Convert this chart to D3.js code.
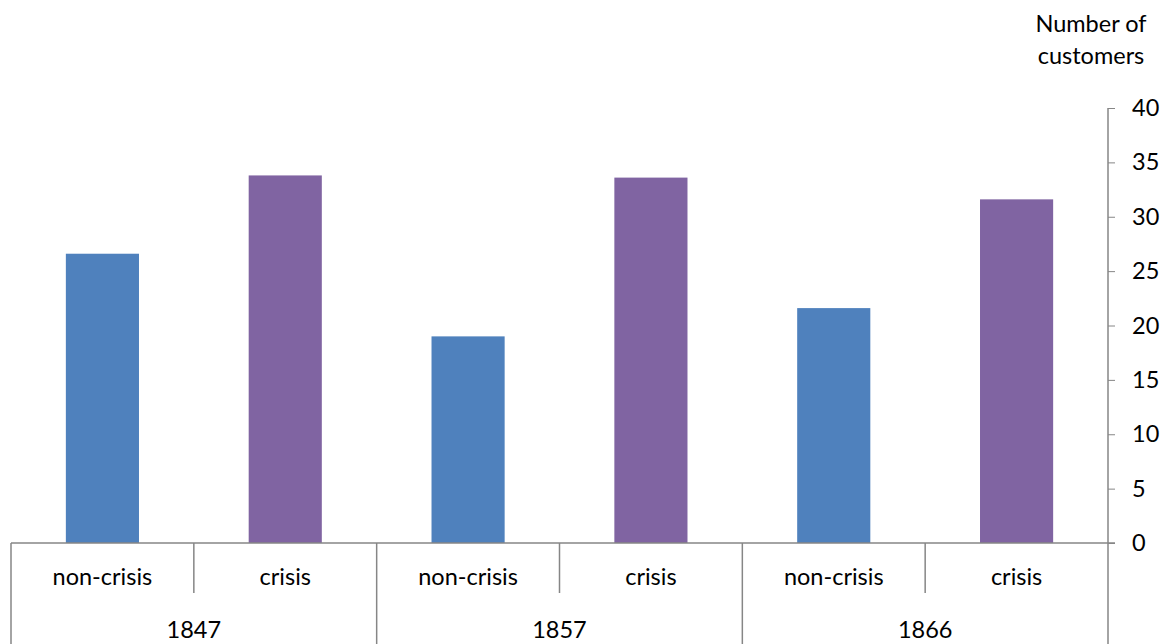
<!DOCTYPE html>
<html>
<head>
<meta charset="utf-8">
<script src="https://cdn.jsdelivr.net/npm/d3@7"></script>
<style>
  body { margin: 0; background: #fff; }
  .chart { width: 1169px; height: 644px; }
  text { font-family: Lato, "Open Sans", sans-serif; fill: #000; }
</style>
</head>
<body>
<div class="chart"></div>
<script>
// chart data
let years = ["1847", "1857", "1866"];
let kinds = ["non-crisis", "crisis"];
let customers = [26.6, 33.8, 19.0, 33.6, 21.6, 31.6];
let yTicks = [0, 5, 10, 15, 20, 25, 30, 35, 40];
let axisTitle = ["Number of", "customers"];

let colors = { "non-crisis": "#4F81BD", "crisis": "#8064A2" };
let axisColor = "#868686";
let fontSize = "23.5px";

// one row per bar
let rows = [];
years.forEach((yr, gi) => {
    kinds.forEach((k, ki) => {
        rows.push({ year: yr, kind: k, id: gi * kinds.length + ki, val: customers[gi * kinds.length + ki] });
    });
});

let margin = { top: 108, right: 61, bottom: 101, left: 11 };
let width = 1169 - margin.left - margin.right;
let height = 644 - margin.top - margin.bottom;

let svg = d3.select(".chart").append("svg")
    .attr("width", 1169)
    .attr("height", 644);

let plot = svg.append("g")
    .attr("transform", `translate(${margin.left},${margin.top})`);

let xScale = d3.scaleBand()
    .domain(rows.map(d => d.id))
    .range([0, width])
    .padding(0);

let groupScale = d3.scaleBand()
    .domain(years)
    .range([0, width])
    .padding(0);

let yScale = d3.scaleLinear()
    .domain([0, 40])
    .range([height, 0]);

// bars
let barW = xScale.bandwidth() * 0.4;
plot.selectAll(".bar")
    .data(rows)
    .enter()
    .append("rect")
    .attr("class", "bar")
    .attr("x", d => xScale(d.id) + (xScale.bandwidth() - barW) / 2)
    .attr("width", barW)
    .attr("y", d => yScale(d.val))
    .attr("height", d => yScale(0) - yScale(d.val))
    .attr("fill", d => colors[d.kind]);

// value axis on the right
let yAxis = plot.append("g")
    .attr("transform", `translate(${width},0)`)
    .call(d3.axisRight(yScale).tickValues(yTicks).tickSize(7).tickPadding(17));

yAxis.select(".domain").remove();
yAxis.selectAll(".tick line").attr("stroke", axisColor);
yAxis.selectAll(".tick text")
    .style("font-size", fontSize)
    .attr("fill", "#000");

// vertical line carries on down through the category table
plot.append("line")
    .attr("x1", width).attr("x2", width)
    .attr("y1", 0).attr("y2", height + margin.bottom)
    .attr("stroke", axisColor).attr("stroke-width", 1.5);

// baseline
plot.append("line")
    .attr("x1", 0).attr("x2", width + 7)
    .attr("y1", height).attr("y2", height)
    .attr("stroke", axisColor).attr("stroke-width", 1.5);

// category table below the bars
let table = plot.append("g").attr("transform", `translate(0,${height})`);

// dividers between kinds inside a year
table.selectAll(".sub-line")
    .data(rows.filter(d => d.kind == "crisis"))
    .enter()
    .append("line")
    .attr("x1", d => xScale(d.id)).attr("x2", d => xScale(d.id))
    .attr("y1", 0).attr("y2", 50)
    .attr("stroke", axisColor).attr("stroke-width", 1.5);

// dividers between years
table.selectAll(".group-line")
    .data(years)
    .enter()
    .append("line")
    .attr("x1", d => groupScale(d)).attr("x2", d => groupScale(d))
    .attr("y1", 0).attr("y2", margin.bottom)
    .attr("stroke", axisColor).attr("stroke-width", 1.5);

table.selectAll(".kind-label")
    .data(rows)
    .enter()
    .append("text")
    .attr("x", d => xScale(d.id) + xScale.bandwidth() / 2)
    .attr("y", 42)
    .attr("text-anchor", "middle")
    .style("font-size", fontSize)
    .text(d => d.kind);

table.selectAll(".year-label")
    .data(years)
    .enter()
    .append("text")
    .attr("x", d => groupScale(d) + groupScale.bandwidth() / 2)
    .attr("y", 95)
    .attr("text-anchor", "middle")
    .style("font-size", fontSize)
    .text(d => d);

// axis title, top right
svg.selectAll(".axis-title")
    .data(axisTitle)
    .enter()
    .append("text")
    .attr("x", 1091)
    .attr("y", (d, i) => 32 + i * 32)
    .attr("text-anchor", "middle")
    .style("font-size", fontSize)
    .text(d => d);
</script>
</body>
</html>
